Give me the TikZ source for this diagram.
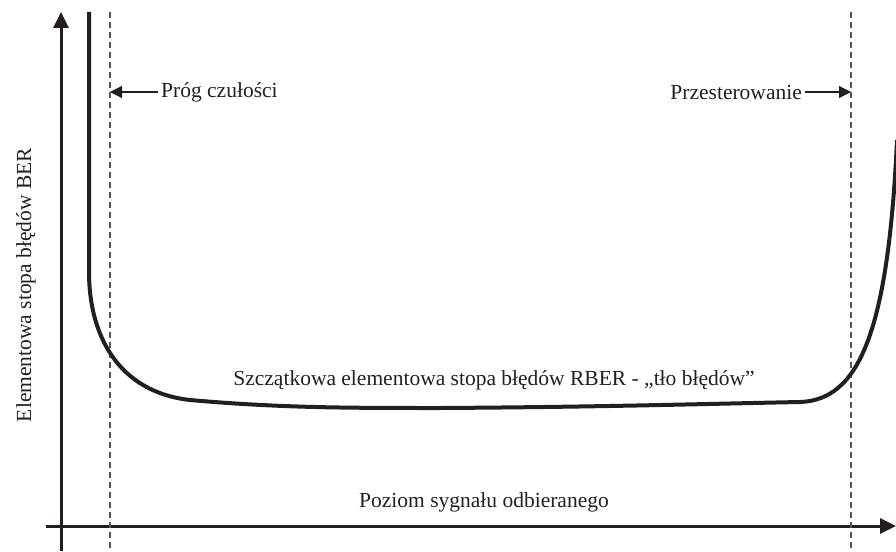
\documentclass[tikz,border=0pt]{standalone}
\usepackage{fontspec}
\setmainfont{Liberation Serif}
\usetikzlibrary{arrows.meta}
\definecolor{ink}{HTML}{231F20}
\definecolor{guide}{HTML}{555555}
\begin{document}
\begin{tikzpicture}[x=1pt,y=-1pt,
  axis/.style={draw=ink,line width=3pt,-{Triangle[length=16pt,width=15pt]}},
  guideline/.style={draw=guide,line width=1.3pt,dash pattern=on 6pt off 4pt},
  pointer/.style={draw=ink,line width=1.2pt,-{Triangle[length=12pt,width=12pt]}},
  curve/.style={draw=ink,line width=4pt},
  lbl/.style={font=\fontsize{21.5}{24}\selectfont,text=ink,inner sep=0pt}]
\useasboundingbox (0,0) rectangle (896,551);
% axes
\coordinate (ybot) at (61,551);
\coordinate (ytop) at (61,12);
\coordinate (xleft) at (46,526);
\coordinate (xright) at (896,526);
\draw[axis] (ybot) -- (ytop);
\draw[axis] (xleft) -- (xright);
% threshold guides
\coordinate (g1t) at (110,12);
\coordinate (g1b) at (110,551);
\coordinate (g2t) at (851,12);
\coordinate (g2b) at (851,551);
\draw[guideline] (g1t) -- (g1b);
\draw[guideline] (g2t) -- (g2b);
% BER curve
\draw[curve] (89,12) -- (89,272)
  .. controls (89,335) and (118,392) .. (190,400)
  .. controls (280,408) and (350,408) .. (440,408)
  .. controls (600,407) and (700,404) .. (800,402)
  .. controls (858,400) and (888,335) .. (897,140);
% labels
\node[lbl,anchor=west] (prog) at (161,92) {Próg czułości};
\node[lbl,anchor=east] (przest) at (802,92) {Przesterowanie};
\coordinate (p1) at (110,92);
\coordinate (p2) at (851,92);
\draw[pointer] (prog.west) ++(-3,0) -- (p1);
\draw[pointer] (przest.east) ++(3,0) -- (p2);
\node[lbl] (rber) at (494,380) {Szczątkowa elementowa stopa błędów RBER - „tło błędów”};
\node[lbl] (xlab) at (484,502) {Poziom sygnału odbieranego};
\node[lbl,rotate=90] (ylab) at (26,285) {Elementowa stopa błędów BER};
\end{tikzpicture}
\end{document}
